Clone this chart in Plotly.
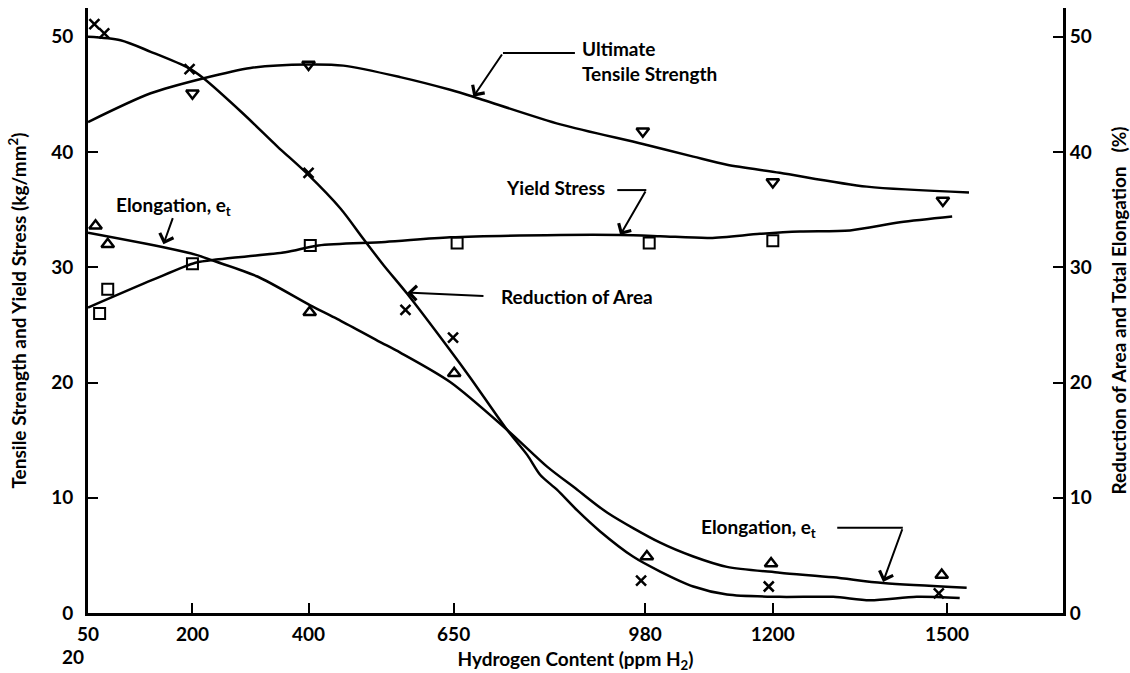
import plotly.graph_objects as go

# ---- measured points (hydrogen content in ppm H2) ----
uts_ppm = [200, 400, 976, 1200, 1493]
uts_val = [45.1, 47.6, 41.8, 37.4, 35.8]

ys_ppm = [40, 54, 200, 403, 656, 987, 1200]
ys_val = [26.0, 28.1, 30.3, 31.9, 32.1, 32.1, 32.3]

el_ppm = [33, 54, 402, 651, 983, 1197, 1491]
el_val = [33.6, 32.0, 26.1, 20.8, 4.9, 4.3, 3.3]

ra_ppm = [31, 48, 195, 400, 567, 649, 973, 1193, 1486]
ra_val = [51.1, 50.3, 47.2, 38.2, 26.3, 23.9, 2.8, 2.3, 1.7]

# ---- faired curves through the data ----
uts_curve_ppm = [20, 128, 219, 300, 398, 460, 558, 644, 684, 834, 976, 1063, 1121, 1212, 1362, 1538]
uts_curve_val = [42.6, 45.1, 46.4, 47.3, 47.6, 47.5, 46.5, 45.4, 44.8, 42.4, 40.7, 39.6, 38.9, 38.2, 37.0, 36.5]

ys_curve_ppm = [20, 131, 205, 245, 360, 417, 532, 644, 834, 937, 1006, 1092, 1178, 1247, 1333, 1419, 1509]
ys_curve_val = [26.5, 28.9, 30.4, 30.7, 31.3, 31.9, 32.2, 32.6, 32.8, 32.8, 32.7, 32.55, 32.9, 33.1, 33.2, 33.9, 34.4]

el_curve_ppm = [20, 154, 205, 240, 312, 403, 450, 520, 558, 644, 742, 811, 863, 915, 1006, 1063, 1121,
                1212, 1304, 1390, 1534]
el_curve_val = [33.0, 31.7, 31.1, 30.5, 29.2, 26.7, 25.5, 23.6, 22.6, 20.05, 15.9, 12.7, 10.7, 8.7, 6.1,
                4.9, 4.0, 3.5, 3.1, 2.6, 2.2]

ra_curve_ppm = [20, 76, 128, 193, 219, 288, 346, 398, 455, 494, 529, 570, 644, 679, 742, 777, 799, 828,
                863, 902, 959, 1006, 1063, 1121, 1212, 1304, 1367, 1448, 1522]
ra_curve_val = [50.0, 49.7, 48.7, 47.3, 46.4, 43.3, 40.5, 38.1, 35.1, 32.5, 30.2, 27.7, 22.8, 20.4, 15.9,
                13.7, 12.0, 10.7, 8.9, 7.1, 4.9, 3.6, 2.3, 1.6, 1.4, 1.4, 1.1, 1.4, 1.3]

x_tickvals = [20, 200, 400, 650, 980, 1200, 1500]
x_ticktext = ["50", "200", "400", "650", "980", "1200", "1500"]
y_ticks = [0, 10, 20, 30, 40, 50]

FONT = "Lato"
BLACK = "#000000"

fig = go.Figure()

line_style = dict(color=BLACK, width=2.5, shape="spline", smoothing=0.8)

fig.add_trace(go.Scatter(x=uts_curve_ppm, y=uts_curve_val, mode="lines", line=line_style,
                         hoverinfo="skip", showlegend=False))
fig.add_trace(go.Scatter(x=ys_curve_ppm, y=ys_curve_val, mode="lines", line=line_style,
                         hoverinfo="skip", showlegend=False))
fig.add_trace(go.Scatter(x=el_curve_ppm, y=el_curve_val, mode="lines", line=line_style,
                         hoverinfo="skip", showlegend=False, yaxis="y2"))
fig.add_trace(go.Scatter(x=ra_curve_ppm, y=ra_curve_val, mode="lines", line=line_style,
                         hoverinfo="skip", showlegend=False, yaxis="y2"))

fig.add_trace(go.Scatter(x=uts_ppm, y=uts_val, mode="markers", name="Ultimate Tensile Strength",
                         marker=dict(symbol="triangle-down-open", size=11, color=BLACK,
                                     line=dict(width=2.5, color=BLACK)), showlegend=False))
fig.add_trace(go.Scatter(x=ys_ppm, y=ys_val, mode="markers", name="Yield Stress",
                         marker=dict(symbol="square-open", size=11, color=BLACK,
                                     line=dict(width=2, color=BLACK)), showlegend=False))
fig.add_trace(go.Scatter(x=el_ppm, y=el_val, mode="markers", name="Elongation",
                         marker=dict(symbol="triangle-up-open", size=11, color=BLACK,
                                     line=dict(width=2.5, color=BLACK)), showlegend=False,
                         yaxis="y2"))
fig.add_trace(go.Scatter(x=ra_ppm, y=ra_val, mode="markers", name="Reduction of Area",
                         marker=dict(symbol="x-thin-open", size=10, color=BLACK,
                                     line=dict(width=2.5, color=BLACK)), showlegend=False,
                         yaxis="y2"))

# ---- leader lines and labels ----
label_font = dict(family=FONT, size=19, color=BLACK, weight=700)


def leader(points):
    """Straight leader segments (all but the final arrow segment)."""
    for (x0, y0), (x1, y1) in zip(points[:-1], points[1:]):
        fig.add_shape(type="line", xref="x", yref="y", x0=x0, y0=y0, x1=x1, y1=y1,
                      line=dict(color=BLACK, width=2))


def arrow(tail, tip):
    fig.add_annotation(x=tip[0], y=tip[1], ax=tail[0], ay=tail[1], xref="x", yref="y",
                       axref="x", ayref="y", text="", showarrow=True, arrowhead=4,
                       arrowsize=1.4, arrowwidth=2, arrowcolor=BLACK, standoff=0)


# Ultimate Tensile Strength
fig.add_annotation(x=867, y=47.9, xref="x", yref="y", text="Ultimate<br>Tensile Strength",
                   showarrow=False, xanchor="left", yanchor="middle", align="left",
                   font=label_font)
leader([(859, 48.6), (735, 48.6)])
arrow((735, 48.6), (684, 44.8))

# Yield Stress
fig.add_annotation(x=914, y=36.9, xref="x", yref="y", text="Yield Stress",
                   showarrow=False, xanchor="right", yanchor="middle", font=label_font)
leader([(932, 36.7), (982, 36.7)])
arrow((982, 36.7), (937, 32.8))

# Reduction of Area
fig.add_annotation(x=729, y=27.5, xref="x", yref="y", text="Reduction of Area",
                   showarrow=False, xanchor="left", yanchor="middle", font=label_font)
arrow((704, 27.5), (570, 27.8))

# Elongation (upper label)
fig.add_annotation(x=64, y=35.3, xref="x", yref="y", text="Elongation, e<sub>t</sub>",
                   showarrow=False, xanchor="left", yanchor="middle", font=label_font)
arrow((167, 34.4), (150, 32.0))

# Elongation (lower label)
fig.add_annotation(x=1073, y=7.4, xref="x", yref="y", text="Elongation, e<sub>t</sub>",
                   showarrow=False, xanchor="left", yanchor="middle", font=label_font)
leader([(1311, 7.4), (1424, 7.4)])
arrow((1424, 7.4), (1390, 2.7))

# Secondary origin label under the x axis
fig.add_annotation(x=-0.015, y=-0.072, xref="paper", yref="paper", text="20",
                   showarrow=False, xanchor="center", yanchor="middle",
                   font=dict(family=FONT, size=19, color=BLACK, weight=700))

tick_font = dict(family=FONT, size=19, color=BLACK, weight=700)
title_font = dict(family=FONT, size=19, color=BLACK, weight=700)

fig.update_layout(
    width=1130, height=673,
    margin=dict(l=88, r=67, t=8, b=60, autoexpand=False),
    paper_bgcolor="white", plot_bgcolor="white",
    showlegend=False,
    xaxis=dict(
        range=[20, 1700], tickmode="array", tickvals=x_tickvals, ticktext=x_ticktext,
        showline=True, linecolor=BLACK, linewidth=3, showgrid=False, zeroline=False,
        ticks="inside", ticklen=10, tickwidth=2, tickcolor=BLACK, automargin=False,
        tickfont=tick_font, ticklabelstandoff=2,
        title=dict(text="Hydrogen Content (ppm H<sub>2</sub>)", font=title_font, standoff=10),
    ),
    yaxis=dict(
        range=[0, 52.5], tickmode="array", tickvals=y_ticks,
        showline=True, linecolor=BLACK, linewidth=3, showgrid=False, zeroline=False,
        ticks="inside", ticklen=10, tickwidth=2, tickcolor=BLACK, automargin=False,
        tickfont=tick_font, ticklabelstandoff=8,
        title=dict(text="Tensile Strength and Yield Stress (kg/mm<sup>2</sup>)",
                   font=title_font, standoff=20),
    ),
    yaxis2=dict(
        range=[0, 52.5], tickmode="array", tickvals=y_ticks, overlaying="y", side="right",
        showline=True, linecolor=BLACK, linewidth=3, showgrid=False, zeroline=False,
        ticks="inside", ticklen=10, tickwidth=2, tickcolor=BLACK, automargin=False,
        tickfont=tick_font, ticklabelstandoff=0,
        title=dict(text="Reduction of Area and Total Elongation   (%)",
                   font=title_font, standoff=24),
    ),
)

fig.write_html("out.html")
